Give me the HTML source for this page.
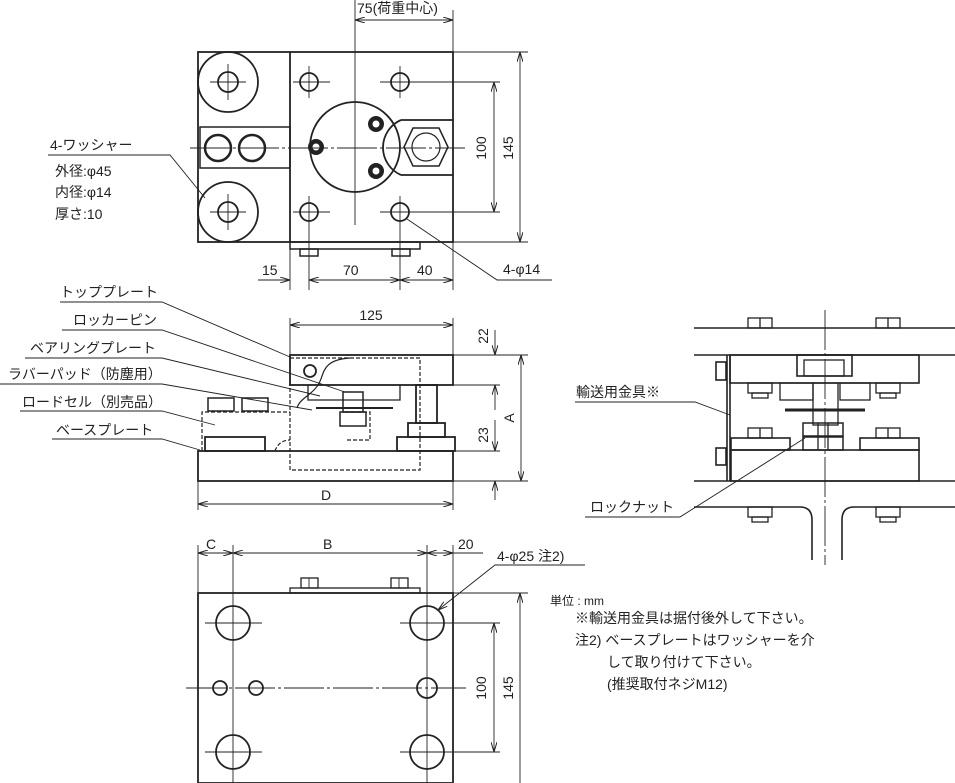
<!DOCTYPE html>
<html><head><meta charset="utf-8"><style>
html,body{margin:0;padding:0;background:#fff}
svg{display:block}
text{font-family:"Liberation Sans","Noto Sans CJK JP",sans-serif;fill:#222;font-size:14px}
</style></head><body>
<svg width="955" height="783" viewBox="0 0 955 783" xmlns="http://www.w3.org/2000/svg">
<defs>
<marker id="a" markerWidth="10" markerHeight="6" refX="10" refY="3" orient="auto-start-reverse" markerUnits="userSpaceOnUse"><path d="M0,0 L10,3 L0,6" fill="none" stroke="#222" stroke-width="1"/></marker>
</defs>
<g fill="none" stroke="#222" stroke-width="1.8">
<!-- TOP VIEW -->
<rect x="198" y="52" width="255" height="190"/>
<line x1="290" y1="52" x2="290" y2="242"/>
<circle cx="228" cy="82" r="30"/><circle cx="228" cy="82" r="10"/>
<circle cx="228" cy="212" r="30"/><circle cx="228" cy="212" r="10"/>
<rect x="200" y="127" width="90" height="41" stroke-width="1.5"/>
<circle cx="218" cy="148" r="13" stroke-width="2.5"/><circle cx="252" cy="148" r="13" stroke-width="2.5"/>
<circle cx="309" cy="82" r="9"/><circle cx="400" cy="82" r="9"/>
<circle cx="309" cy="212" r="9"/><circle cx="400" cy="212" r="9"/>
<circle cx="355" cy="147" r="45"/>
<path d="M401,120 L453,120 M401,175 L453,175 M401,120 A30,30 0 0 0 401,175"/>
<polygon points="413,128 439,128 448,147 439,166 413,166 404,147" stroke-width="1.5"/>
<circle cx="426" cy="147" r="14" stroke-width="1.2"/>
<rect x="290" y="242" width="130" height="7" stroke-width="1.5"/>
<rect x="300" y="249" width="18" height="7" stroke-width="1.5"/><rect x="392" y="249" width="18" height="7" stroke-width="1.5"/>
</g>
<g fill="#222"><circle cx="316" cy="147" r="8"/><circle cx="376" cy="124" r="8"/><circle cx="376" cy="171" r="8"/></g>
<g fill="#fff" stroke="#222" stroke-width="1"><circle cx="316" cy="147" r="4"/><circle cx="376" cy="124" r="4"/><circle cx="376" cy="171" r="4"/></g>
<g stroke="#222" stroke-width="0.9" fill="none">
<line x1="355" y1="0" x2="355" y2="225"/>
<line x1="190" y1="148" x2="465" y2="148" stroke-dasharray="40,3,3,3"/>
<line x1="210" y1="82" x2="246" y2="82"/><line x1="228" y1="64" x2="228" y2="100"/>
<line x1="210" y1="212" x2="246" y2="212"/><line x1="228" y1="194" x2="228" y2="230"/>
<line x1="293" y1="82" x2="330" y2="82"/><line x1="309" y1="66" x2="309" y2="98"/>
<line x1="380" y1="82" x2="500" y2="82"/><line x1="400" y1="66" x2="400" y2="98"/>
<line x1="293" y1="212" x2="330" y2="212"/><line x1="309" y1="196" x2="309" y2="290"/>
<line x1="380" y1="212" x2="500" y2="212"/><line x1="400" y1="196" x2="400" y2="290"/>
<line x1="453" y1="10" x2="453" y2="52"/>
<line x1="355" y1="20" x2="453" y2="20" marker-start="url(#a)" marker-end="url(#a)"/>
<line x1="453" y1="52" x2="528" y2="52"/><line x1="453" y1="242" x2="528" y2="242"/>
<line x1="520" y1="52" x2="520" y2="242" marker-start="url(#a)" marker-end="url(#a)"/>
<line x1="494" y1="82" x2="494" y2="212" marker-start="url(#a)" marker-end="url(#a)"/>
<line x1="290" y1="242" x2="290" y2="290"/><line x1="453" y1="242" x2="453" y2="290"/>
<line x1="258" y1="280" x2="290" y2="280" marker-end="url(#a)"/>
<line x1="309" y1="280" x2="400" y2="280" marker-start="url(#a)" marker-end="url(#a)"/>
<line x1="400" y1="280" x2="453" y2="280" marker-start="url(#a)" marker-end="url(#a)"/>
<polyline points="48,155 170,155 205,198"/>
<polyline points="407,219 497,280 552,280"/>
</g>
<text x="357" y="13">75(荷重中心)</text>
<text x="486" y="148" transform="rotate(-90 486 148)" text-anchor="middle">100</text>
<text x="513" y="148" transform="rotate(-90 513 148)" text-anchor="middle">145</text>
<text x="262" y="275">15</text><text x="343" y="275">70</text><text x="417" y="275">40</text>
<text x="50" y="150">4-ワッシャー</text>
<text x="55" y="176">外径:φ45</text><text x="55" y="197">内径:φ14</text><text x="55" y="219">厚さ:10</text>
<text x="503" y="274">4-φ14</text>

<!-- SIDE VIEW -->
<g fill="none" stroke="#222" stroke-width="1.8">
<rect x="290" y="355" width="163" height="30"/>
<rect x="198" y="451" width="255" height="30"/>
<rect x="205" y="437" width="60" height="14"/>
<rect x="397" y="437" width="58" height="14"/>
<rect x="416" y="385" width="21" height="38"/>
<rect x="408" y="423" width="37" height="14"/>
<rect x="208" y="398" width="26" height="13" stroke-width="1.5"/>
<rect x="242" y="398" width="26" height="13" stroke-width="1.5"/>
<polyline points="308,385 308,400 400,400 400,385" stroke-width="1.3"/>
<rect x="343" y="392" width="20" height="20" stroke-width="1.5"/>
<rect x="340" y="412" width="26" height="14" stroke-width="1.5"/>
<line x1="316" y1="408" x2="393" y2="408" stroke-width="2"/>
<circle cx="310" cy="371" r="6"/>
<path d="M350,358 C320,360 325,375 318,385 C312,395 300,398 297,408" stroke-width="1.2"/>
</g>
<g fill="none" stroke="#222" stroke-width="1.2" stroke-dasharray="4,2">
<rect x="290" y="358" width="130" height="112"/>
<polyline points="202,451 202,412 290,412"/>
<polyline points="345,412 370,412 370,440 345,440"/>
<path d="M275,451 C278,442 285,440 290,440"/>
</g>
<g stroke="#222" stroke-width="0.9" fill="none">
<line x1="290" y1="318" x2="290" y2="355"/><line x1="453" y1="318" x2="453" y2="355"/>
<line x1="290" y1="325" x2="453" y2="325" marker-start="url(#a)" marker-end="url(#a)"/>
<line x1="453" y1="355" x2="528" y2="355"/><line x1="453" y1="385" x2="500" y2="385"/>
<line x1="453" y1="451" x2="500" y2="451"/><line x1="453" y1="481" x2="528" y2="481"/>
<line x1="495" y1="330" x2="495" y2="355" marker-end="url(#a)"/>
<line x1="495" y1="410" x2="495" y2="385" marker-end="url(#a)"/>
<line x1="495" y1="420" x2="495" y2="451" marker-end="url(#a)"/>
<line x1="495" y1="500" x2="495" y2="481" marker-end="url(#a)"/>
<line x1="521" y1="355" x2="521" y2="481" marker-start="url(#a)" marker-end="url(#a)"/>
<line x1="198" y1="481" x2="198" y2="510"/><line x1="453" y1="481" x2="453" y2="510"/>
<line x1="198" y1="504" x2="453" y2="504" marker-start="url(#a)" marker-end="url(#a)"/>
<polyline points="60,302 162,302 290,357"/>
<polyline points="62,330 162,330 345,392"/>
<polyline points="25,358 162,358 320,396"/>
<polyline points="0,384 162,384 312,410"/>
<polyline points="20,411 162,411 215,425"/>
<polyline points="52,439 162,439 200,450"/>
</g>
<text x="371" y="320" text-anchor="middle">125</text>
<text x="488" y="336" transform="rotate(-90 488 336)" text-anchor="middle">22</text>
<text x="488" y="435" transform="rotate(-90 488 435)" text-anchor="middle">23</text>
<text x="514" y="418" transform="rotate(-90 514 418)" text-anchor="middle">A</text>
<text x="326" y="500" text-anchor="middle">D</text>
<text x="60" y="297">トッププレート</text>
<text x="73" y="325">ロッカーピン</text>
<text x="30" y="353">ベアリングプレート</text>
<text x="8" y="379">ラバーパッド（防塵用）</text>
<text x="22" y="407">ロードセル（別売品）</text>
<text x="56" y="435">ベースプレート</text>

<!-- DETAIL VIEW -->
<g fill="none" stroke="#222" stroke-width="1.6">
<line x1="694" y1="328" x2="955" y2="328"/>
<line x1="694" y1="355" x2="955" y2="355"/>
<line x1="694" y1="481" x2="955" y2="481"/>
<path d="M694,507 L800,507 Q812,507 812,520 L812,560"/>
<path d="M955,507 L854,507 Q842,507 842,520 L842,560"/>
<rect x="730" y="355" width="189" height="28"/>
<rect x="797" y="355" width="55" height="21"/>
<rect x="804" y="360" width="40" height="16" stroke-width="1.3"/>
<line x1="727" y1="355" x2="727" y2="481"/><line x1="730" y1="355" x2="730" y2="481"/>
<rect x="716" y="362" width="10" height="18"/><rect x="716" y="448" width="10" height="17"/>
<rect x="780" y="383" width="33" height="17" stroke-width="1.3"/>
<rect x="840" y="383" width="30" height="17" stroke-width="1.3"/>
<rect x="813" y="383" width="25" height="42" stroke-width="1.3"/>
<line x1="785" y1="410" x2="865" y2="410" stroke-width="3"/>
<rect x="803" y="423" width="40" height="13" stroke-width="1.5"/>
<rect x="803" y="437" width="40" height="13" stroke-width="1.5"/>
<rect x="731" y="438" width="59" height="12"/><rect x="860" y="438" width="59" height="12"/>
<rect x="731" y="450" width="188" height="31"/>
</g>
<g fill="none" stroke="#222" stroke-width="1.3">
<rect x="748" y="318" width="24" height="10"/><rect x="876" y="318" width="24" height="10"/>
<rect x="748" y="383" width="24" height="10"/><rect x="752" y="393" width="16" height="5"/>
<rect x="876" y="383" width="24" height="10"/><rect x="880" y="393" width="16" height="5"/>
<rect x="748" y="428" width="24" height="10"/><rect x="876" y="428" width="24" height="10"/>
<rect x="748" y="507" width="24" height="10"/><rect x="752" y="517" width="16" height="5"/>
<rect x="876" y="507" width="24" height="10"/><rect x="880" y="517" width="16" height="5"/>
<line x1="760" y1="318" x2="760" y2="328"/><line x1="888" y1="318" x2="888" y2="328"/>
<line x1="760" y1="428" x2="760" y2="438"/><line x1="888" y1="428" x2="888" y2="438"/>
<line x1="818" y1="423" x2="818" y2="450"/><line x1="828" y1="423" x2="828" y2="450"/>
</g>
<g stroke="#222" stroke-width="0.9" fill="none">
<line x1="825" y1="310" x2="825" y2="565" stroke-dasharray="40,3,3,3"/>
<polyline points="575,402 695,402 730,415"/>
<polyline points="585,517 680,517 805,438"/>
</g>
<text x="576" y="397">輸送用金具※</text>
<text x="590" y="512">ロックナット</text>

<!-- BOTTOM VIEW -->
<g fill="none" stroke="#222" stroke-width="1.8">
<rect x="198" y="593" width="255" height="190"/>
<rect x="290" y="588" width="130" height="5" stroke-width="1.3"/>
<rect x="301" y="578" width="17" height="10" stroke-width="1.3"/><rect x="391" y="578" width="17" height="10" stroke-width="1.3"/>
<circle cx="233" cy="623" r="17"/><circle cx="427" cy="623" r="17"/>
<circle cx="233" cy="752" r="17"/><circle cx="427" cy="752" r="17"/>
<circle cx="220" cy="688" r="7"/><circle cx="256" cy="688" r="7"/><circle cx="427" cy="688" r="10"/>
</g>
<g stroke="#222" stroke-width="0.9" fill="none">
<line x1="309" y1="578" x2="309" y2="588"/><line x1="399" y1="578" x2="399" y2="588"/>
<line x1="186" y1="688" x2="466" y2="688" stroke-dasharray="40,3,3,3"/>
<line x1="233" y1="545" x2="233" y2="783"/><line x1="427" y1="545" x2="427" y2="783"/>
<line x1="205" y1="623" x2="262" y2="623"/><line x1="400" y1="623" x2="500" y2="623"/>
<line x1="205" y1="752" x2="262" y2="752"/><line x1="400" y1="752" x2="500" y2="752"/>
<line x1="198" y1="545" x2="198" y2="593"/><line x1="453" y1="545" x2="453" y2="593"/>
<line x1="198" y1="553" x2="233" y2="553" marker-start="url(#a)" marker-end="url(#a)"/>
<line x1="233" y1="553" x2="427" y2="553" marker-start="url(#a)" marker-end="url(#a)"/>
<line x1="427" y1="553" x2="453" y2="553" marker-start="url(#a)" marker-end="url(#a)"/>
<line x1="453" y1="553" x2="483" y2="553"/>
<line x1="453" y1="593" x2="528" y2="593"/>
<line x1="494" y1="623" x2="494" y2="752" marker-start="url(#a)" marker-end="url(#a)"/>
<line x1="520" y1="593" x2="520" y2="783" marker-start="url(#a)"/>
<polyline points="585,565 495,565 438,610" marker-end="url(#a)"/>
</g>
<text x="206" y="549">C</text><text x="323" y="549">B</text><text x="458" y="549">20</text>
<text x="497" y="561">4-φ25 注2)</text>
<text x="486" y="688" transform="rotate(-90 486 688)" text-anchor="middle">100</text>
<text x="513" y="688" transform="rotate(-90 513 688)" text-anchor="middle">145</text>
<text x="550" y="605" style="font-size:12px">単位 : mm</text>
<text x="575" y="623">※輸送用金具は据付後外して下さい。</text>
<text x="575" y="645">注2) ベースプレートはワッシャーを介</text>
<text x="607" y="667">して取り付けて下さい。</text>
<text x="607" y="689">(推奨取付ネジM12)</text>
</svg>
</body></html>
